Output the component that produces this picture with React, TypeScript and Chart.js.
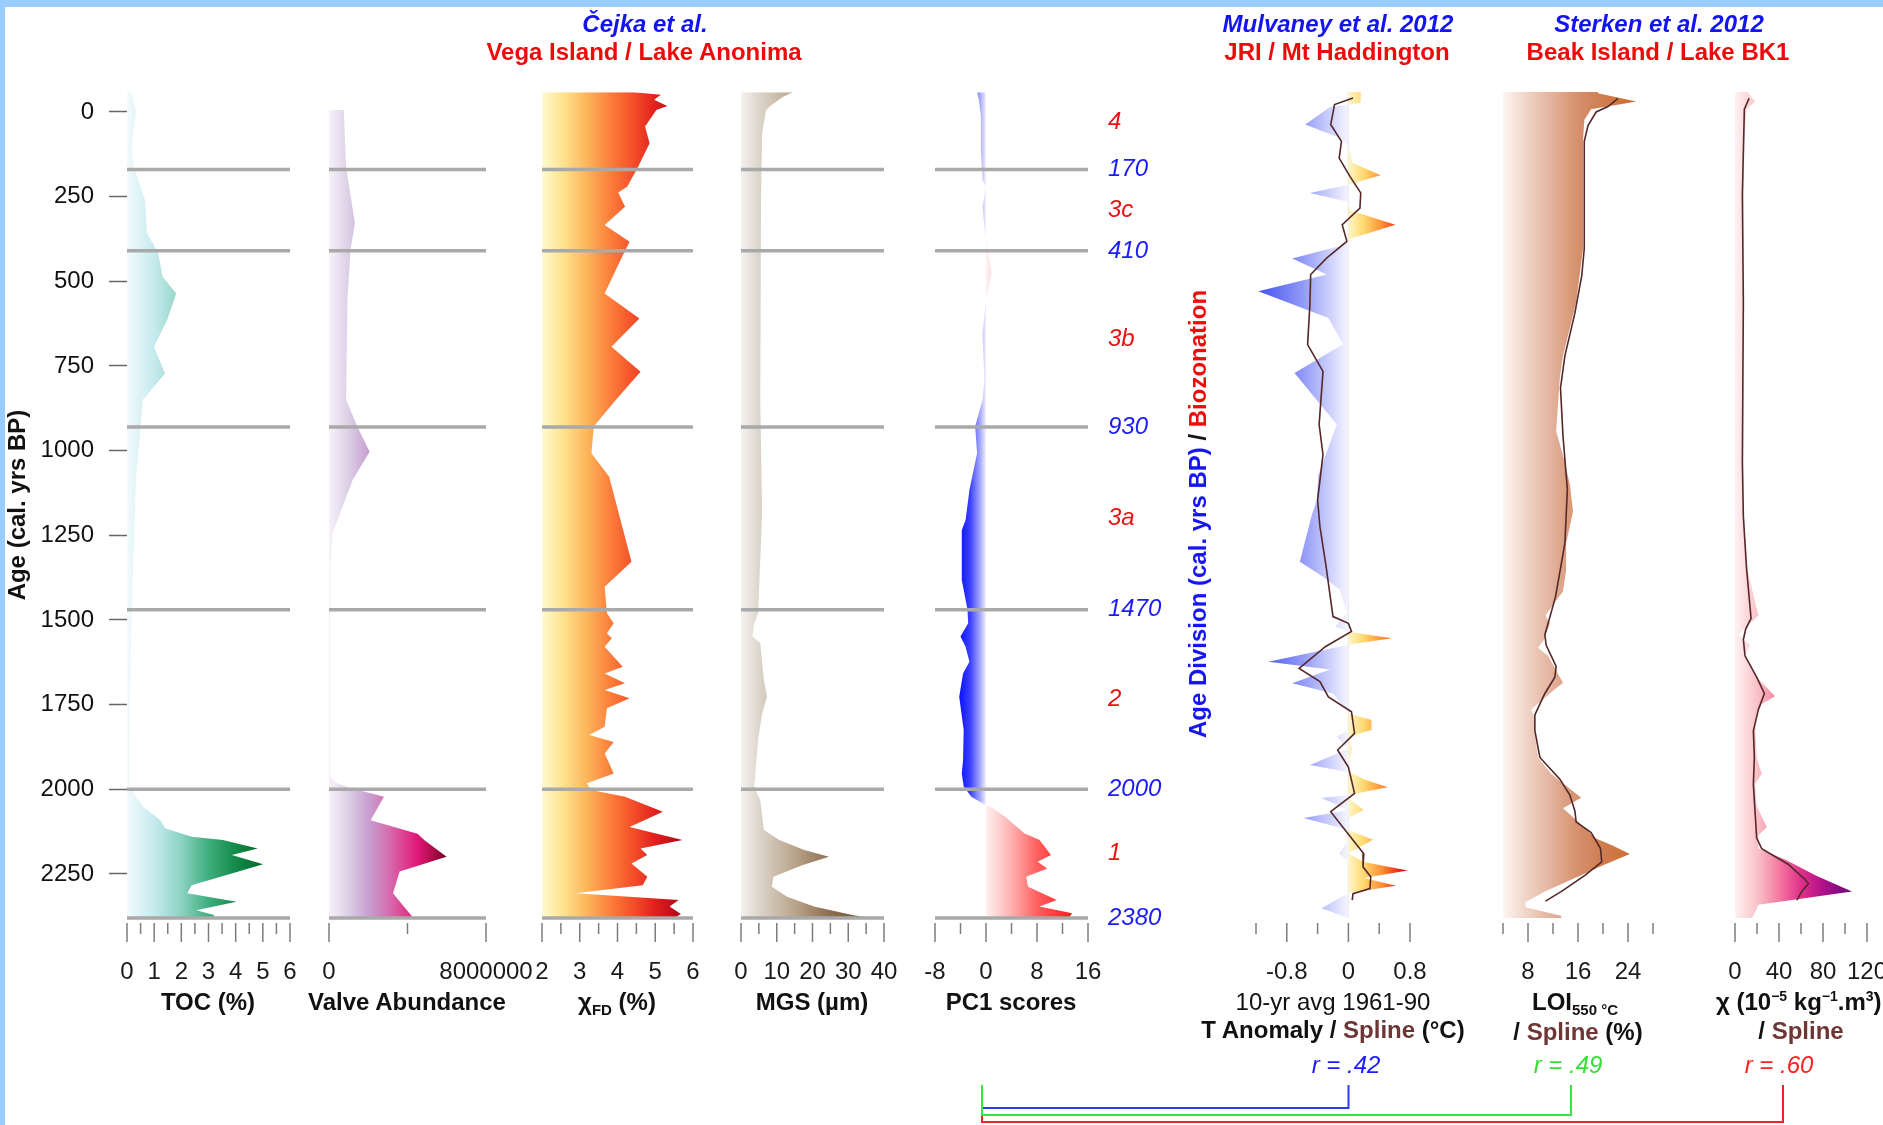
import React, { useEffect, useRef } from 'react';
import { Chart, registerables } from 'chart.js';

Chart.register(...registerables);

const FONT = "'Liberation Sans', Arial, Helvetica, sans-serif";
const W = 1883;
const H = 1125;
const PLOT_TOP = 92;
const PLOT_BOTTOM = 918;
const AXIS_BOX = 120;

type Pair = [number, number];

// ---- shared age axis (cal. yrs BP) ----
const AGE_MIN = -59;
const AGE_MAX = 2380;
const ageTicks = [0, 250, 500, 750, 1000, 1250, 1500, 1750, 2000, 2250];
const divisionAges = [170, 410, 930, 1470, 2000, 2380];
const biozoneNames = ['4', '3c', '3b', '3a', '2', '1'];
const biozoneAges = [30, 290, 670, 1200, 1735, 2190];

// ---- tick labels per panel ----
const tocTickLabels = [0, 1, 2, 3, 4, 5, 6];
const valveTickLabels = [0, 8000000];
const xfdTickLabels = [2, 3, 4, 5, 6];
const mgsTickLabels = [0, 10, 20, 30, 40];
const pc1TickLabels = [-8, 0, 8, 16];
const tempTickLabels = [-0.8, 0, 0.8];
const loiTickLabels = [8, 16, 24];
const chiTickLabels = [0, 40, 80, 120];

// ---- Vega Island / Lake Anonima profiles: [age, value] ----
const tocProfile: Pair[] = [
  [-58, 0.17], [0, 0.33], [109, 0.17], [161, 0.25], [260, 0.66], [358, 0.74], [417, 1.15],
  [486, 1.31], [536, 1.81], [614, 1.48], [693, 0.99], [772, 1.4], [850, 0.58], [1086, 0.33],
  [1480, 0.17], [1874, 0.08], [1992, 0.08], [2051, 0.58], [2091, 1.23], [2115, 1.4],
  [2140, 2.38], [2150, 3.53], [2175, 4.81], [2194, 3.86], [2221, 5.01], [2283, 2.38],
  [2307, 2.22], [2332, 4.03], [2357, 2.55], [2371, 3.2], [2380, 3.2],
];

const valveProfile: Pair[] = [
  [-6, 750000], [161, 870000], [329, 1320000], [407, 1090000], [555, 940000], [850, 870000],
  [929, 1440000], [1003, 2070000], [1086, 1210000], [1244, 180000], [1333, 70000],
  [1628, 50000], [1960, 50000], [1980, 300000], [1995, 1000000], [2022, 2800000],
  [2091, 2120000], [2131, 4510000], [2150, 4850000], [2199, 5990000], [2243, 3600000],
  [2307, 3260000], [2371, 4170000], [2380, 4300000],
];

const xfdProfile: Pair[] = [
  [-58, 4.43], [-51, 5.15], [-36, 4.97], [-18, 5.32], [-6, 5.03], [43, 4.73], [92, 4.85],
  [161, 4.55], [220, 4.26], [238, 4.02], [280, 4.2], [334, 3.66], [383, 4.32], [437, 4.08],
  [536, 3.66], [610, 4.58], [693, 3.84], [767, 4.61], [850, 3.96], [929, 3.37], [1008, 3.31],
  [1077, 3.78], [1328, 4.37], [1402, 3.66], [1480, 3.72], [1510, 3.9], [1539, 3.72],
  [1554, 3.85], [1579, 3.66], [1638, 4.14], [1658, 3.66], [1687, 4.2], [1707, 3.66],
  [1731, 4.32], [1761, 3.72], [1815, 3.66], [1840, 3.25], [1860, 3.9], [1894, 3.66],
  [1953, 3.9], [1982, 3.19], [2002, 3.3], [2022, 4.2], [2066, 5.2], [2111, 4.32],
  [2150, 5.72], [2175, 4.61], [2194, 4.79], [2219, 4.37], [2258, 4.79], [2283, 4.67],
  [2307, 2.89], [2327, 5.62], [2346, 5.38], [2368, 5.68], [2380, 5.5],
];

const mgsProfile: Pair[] = [
  [-58, 14.5], [-45, 11.8], [-21, 8.6], [-6, 7.0], [63, 5.9], [260, 5.6], [850, 5.4],
  [1185, 5.9], [1480, 4.8], [1510, 3.7], [1549, 3.2], [1569, 5.4], [1677, 6.4], [1727, 7.3],
  [1776, 5.9], [1854, 4.8], [1992, 3.7], [2032, 5.4], [2120, 6.4], [2150, 10.7], [2179, 17.7],
  [2199, 24.6], [2224, 17.1], [2258, 9.1], [2288, 8.6], [2317, 12.9], [2346, 20.4],
  [2371, 31.1], [2380, 36],
];

const pc1Profile: Pair[] = [
  [-58, -1.4], [-35, -1.1], [14, -0.8], [112, -0.8], [201, -0.55], [221, 0], [280, -0.55],
  [339, -0.25], [378, 0], [476, 0.9], [555, 0], [654, -0.55], [791, -0.25], [850, -0.55],
  [929, -1.7], [1008, -1.4], [1116, -2.6], [1205, -3.2], [1235, -3.8], [1382, -3.8],
  [1470, -2.9], [1510, -2.8], [1549, -4.0], [1579, -3.2], [1623, -2.6], [1658, -3.6],
  [1727, -4.2], [1825, -3.5], [1914, -3.6], [1953, -3.8], [1992, -3.5], [2022, -2.3],
  [2041, -0.55], [2046, 0], [2051, 0.65], [2081, 3.0], [2130, 6.0], [2150, 8.4], [2194, 10.2],
  [2214, 8.1], [2234, 9.6], [2258, 6.3], [2288, 6.6], [2327, 11.1], [2346, 8.4], [2366, 13.5],
  [2380, 13.0],
];

// ---- JRI / Mt Haddington temperature anomaly ----
const tempProfile: Pair[] = [
  [-59, 0.16], [-27, 0.16], [-22, 0], [-15, -0.24], [37, -0.56], [77, -0.11], [100, 0],
  [150, 0.05], [187, 0.42], [215, 0], [239, -0.5], [266, 0], [290, 0.02], [333, 0.61],
  [375, 0.02], [395, -0.1], [433, -0.73], [480, -0.28], [529, -1.17], [608, -0.26],
  [686, -0.07], [771, -0.7], [923, -0.15], [1071, -0.39], [1146, -0.41], [1194, -0.48],
  [1328, -0.63], [1372, -0.33], [1411, -0.11], [1480, -0.02], [1520, -0.17], [1535, 0],
  [1554, 0.56], [1573, 0], [1623, -1.04], [1646, -0.24], [1687, -0.73], [1717, -0.2],
  [1776, 0], [1795, 0.3], [1825, 0.3], [1845, -0.15], [1880, 0.05], [1928, -0.5], [1950, 0.02],
  [1970, 0.2], [1994, 0.51], [2017, 0], [2026, -0.35], [2061, 0.2], [2085, -0.58], [2120, 0],
  [2149, 0.32], [2189, -0.12], [2215, 0.2], [2240, 0.77], [2262, 0.2], [2285, 0.62],
  [2306, 0], [2351, -0.35], [2380, 0],
];

const tempSpline: Pair[] = [
  [-41, 0.06], [-22, -0.18], [37, -0.23], [87, -0.09], [136, -0.12], [190, 0.02], [239, 0.16],
  [284, 0.15], [333, -0.08], [382, -0.02], [431, -0.28], [480, -0.49], [569, -0.5], [687, -0.53],
  [766, -0.33], [923, -0.38], [1012, -0.33], [1146, -0.4], [1224, -0.37], [1342, -0.29],
  [1490, -0.2], [1510, 0], [1534, 0.04], [1579, -0.3], [1643, -0.64], [1682, -0.37],
  [1727, -0.26], [1771, 0.04], [1835, 0.08], [1884, -0.14], [1934, 0], [2012, 0.08],
  [2066, -0.23], [2130, -0.01], [2190, 0.2], [2229, 0.19], [2258, 0.29], [2293, 0.28],
  [2308, 0.06], [2327, 0.05],
];

// ---- Beak Island / Lake BK1 ----
const loiProfile: Pair[] = [
  [-59, 19.2], [-55, 19.2], [-31, 25.3], [-8, 18.1], [24, 17.0], [87, 16.8], [404, 16.8],
  [562, 15.7], [720, 13.6], [783, 13.1], [941, 12.5], [1036, 13.9], [1100, 14.7], [1179, 15.2],
  [1274, 14.1], [1353, 14.1], [1416, 13.6], [1448, 12.3], [1487, 10.8], [1511, 11.5],
  [1558, 10.6], [1582, 9.6], [1606, 11.2], [1685, 13.6], [1709, 12.0], [1764, 8.5], [1788, 9.1],
  [1827, 9.0], [1906, 9.6], [1954, 11.7], [2001, 14.9], [2025, 16.5], [2056, 13.6],
  [2096, 16.0], [2144, 18.7], [2167, 21.6], [2191, 24.3], [2222, 20.3], [2254, 16.5],
  [2302, 10.7], [2334, 7.5], [2349, 7.7], [2373, 13.3], [2380, 13.3],
];

const loiSpline: Pair[] = [
  [-40, 22.4], [-16, 20.8], [0, 18.9], [40, 17.6], [87, 17.0], [404, 17.0], [483, 16.6],
  [594, 15.5], [720, 13.9], [815, 13.2], [957, 13.6], [1115, 14.3], [1274, 13.9], [1432, 12.4],
  [1511, 11.2], [1543, 10.7], [1574, 10.9], [1637, 12.5], [1669, 12.3], [1717, 10.7],
  [1780, 9.1], [1827, 9.1], [1906, 9.9], [1970, 13.1], [2017, 14.7], [2064, 15.5],
  [2096, 15.7], [2128, 18.1], [2175, 19.6], [2214, 19.8], [2254, 17.1], [2302, 13.3],
  [2330, 10.8],
];

const chiProfile: Pair[] = [
  [-59, 12], [-55, 12.1], [-31, 18.2], [-8, 10.6], [87, 8.5], [404, 7.6], [1200, 7.6],
  [1352, 11.5], [1447, 18.2], [1487, 21.3], [1527, 8.5], [1543, 3], [1574, 13.7], [1606, 8.5],
  [1669, 19.7], [1725, 36.4], [1748, 24.3], [1796, 18.2], [1906, 19.7], [1954, 24.3],
  [1985, 18.2], [2049, 19.7], [2112, 28.9], [2136, 21.3], [2175, 21.3], [2207, 45.6],
  [2254, 72.9], [2302, 106.3], [2341, 21.3], [2373, 16.7], [2380, 15.2],
];

const chiSpline: Pair[] = [
  [-40, 12.8], [-8, 8.5], [245, 6.7], [562, 7.6], [1036, 6.7], [1194, 7.6], [1352, 10.6],
  [1495, 14.6], [1527, 9.7], [1558, 7.6], [1606, 9.1], [1669, 19.7], [1717, 26.7],
  [1764, 21.3], [1827, 16.7], [1906, 17.6], [1985, 16.7], [2064, 18.2], [2144, 19.7],
  [2175, 24.3], [2222, 48.6], [2262, 62.3], [2278, 66.8], [2302, 60.7], [2327, 56.2],
];

// ---- colour ramps (value, colour) ----
const TOC_RAMP: Pair[] | any = [[0, '#f2fafc'], [1, '#c6eaee'], [2, '#8bd3c2'], [3, '#3fae7e'], [4, '#138a48'], [5, '#006a2c']];
const VALVE_RAMP: any = [[0, '#f6f2f8'], [1000000, '#dccfe6'], [2000000, '#c8a0d2'], [3000000, '#d670b0'], [4500000, '#e01878'], [5500000, '#a0083e'], [6000000, '#6a0028']];
const XFD_RAMP: any = [[2, '#fffbd0'], [2.6, '#fee08a'], [3.2, '#fdb45a'], [3.8, '#fb7f3a'], [4.4, '#f4502a'], [5.0, '#e0201e'], [5.6, '#b80818'], [6, '#900010']];
const MGS_RAMP: any = [[0, '#f5f2ee'], [5, '#ddd5cb'], [15, '#b9a48b'], [25, '#8c6d4f'], [35, '#6e5236']];
const PC1_NEG_RAMP: any = [[-4.2, '#0a10ff'], [-2.5, '#3a40ff'], [-1, '#a0a4ff'], [0, '#f2f2ff']];
const PC1_POS_RAMP: any = [[0, '#fff0f0'], [4, '#ffb0b0'], [8, '#ff6060'], [13.5, '#ff1a1a']];
const TEMP_NEG_RAMP: any = [[-1.2, '#3f4ff0'], [-0.6, '#9098f6'], [0, '#f6f6ff']];
const TEMP_POS_RAMP: any = [[0, '#fff6c8'], [0.2, '#ffd870'], [0.45, '#ff8a30'], [0.7, '#e81010'], [0.8, '#c00000']];
const LOI_RAMP: any = [[4, '#fdf5f1'], [8, '#efd2c4'], [12, '#e2b09a'], [16, '#d6906c'], [20, '#cf7d50'], [25, '#d06a2c']];
const CHI_RAMP: any = [[0, '#fff2f2'], [20, '#f9c3c8'], [40, '#f47aa0'], [60, '#e0308a'], [80, '#b0108a'], [105, '#6a0a78']];

const SPLINE_COLOR = '#55282a';

function rampFill(stops: [number, string][]) {
  return (c: any) => {
    const chart = c.chart;
    const xs = chart.scales && chart.scales.x;
    if (!chart.chartArea || !xs) return stops[0][1];
    const v0 = stops[0][0];
    const v1 = stops[stops.length - 1][0];
    const g = chart.ctx.createLinearGradient(xs.getPixelForValue(v0), 0, xs.getPixelForValue(v1), 0);
    stops.forEach(([v, col]) => g.addColorStop((v - v0) / (v1 - v0), col));
    return g;
  };
}

const toPoints = (rows: Pair[], f: (v: number) => number = (v) => v) =>
  rows.map(([age, v]) => ({ x: f(v), y: age }));

function areaSet(rows: Pair[], base: number, ramp: [number, string][], f?: (v: number) => number) {
  return {
    data: toPoints(rows, f),
    fill: { value: base },
    backgroundColor: rampFill(ramp),
    borderColor: 'rgba(0,0,0,0)',
    borderWidth: 0,
    pointRadius: 0,
    order: 1,
  };
}

function splineSet(rows: Pair[]) {
  return {
    data: toPoints(rows),
    fill: false,
    borderColor: SPLINE_COLOR,
    borderWidth: 1.6,
    pointRadius: 0,
    order: 0,
  };
}

type PanelSpec = {
  id: string;
  left: number;
  right: number;
  canvasLeft: number;
  canvasRight: number;
  min: number;
  max: number;
  step: number;
  labels: number[];
  datasets: any[];
  guides?: boolean;
  ageAxis?: boolean;
  zones?: boolean;
};

const panels: PanelSpec[] = [
  {
    id: 'toc', left: 127, right: 290, canvasLeft: 0, canvasRight: 335,
    min: 0, max: 6, step: 0.5, labels: tocTickLabels, guides: true, ageAxis: true,
    datasets: [areaSet(tocProfile, 0, TOC_RAMP)],
  },
  {
    id: 'valve', left: 329, right: 486, canvasLeft: 279, canvasRight: 536,
    min: 0, max: 8000000, step: 4000000, labels: valveTickLabels, guides: true,
    datasets: [areaSet(valveProfile, 0, VALVE_RAMP)],
  },
  {
    id: 'xfd', left: 542, right: 693, canvasLeft: 492, canvasRight: 743,
    min: 2, max: 6, step: 0.5, labels: xfdTickLabels, guides: true,
    datasets: [areaSet(xfdProfile, 2, XFD_RAMP)],
  },
  {
    id: 'mgs', left: 741, right: 884, canvasLeft: 691, canvasRight: 934,
    min: 0, max: 40, step: 5, labels: mgsTickLabels, guides: true,
    datasets: [areaSet(mgsProfile, 0, MGS_RAMP)],
  },
  {
    id: 'pc1', left: 935, right: 1088, canvasLeft: 885, canvasRight: 1220,
    min: -8, max: 16, step: 4, labels: pc1TickLabels, guides: true, zones: true,
    datasets: [
      areaSet(pc1Profile, 0, PC1_NEG_RAMP, (v) => Math.min(v, 0)),
      areaSet(pc1Profile, 0, PC1_POS_RAMP, (v) => Math.max(v, 0)),
    ],
  },
  {
    id: 'temp', left: 1256, right: 1410, canvasLeft: 1206, canvasRight: 1460,
    min: -1.2, max: 0.8, step: 0.4, labels: tempTickLabels,
    datasets: [
      splineSet(tempSpline),
      areaSet(tempProfile, 0, TEMP_NEG_RAMP, (v) => Math.min(v, 0)),
      areaSet(tempProfile, 0, TEMP_POS_RAMP, (v) => Math.max(v, 0)),
      {
        data: [{ x: 0, y: AGE_MIN }, { x: 0, y: AGE_MAX }],
        fill: false, borderColor: '#e3e3f1', borderWidth: 1.2, pointRadius: 0, order: 3,
      },
    ],
  },
  {
    id: 'loi', left: 1503, right: 1653, canvasLeft: 1453, canvasRight: 1703,
    min: 4, max: 28, step: 4, labels: loiTickLabels,
    datasets: [splineSet(loiSpline), areaSet(loiProfile, 4, LOI_RAMP)],
  },
  {
    id: 'chi', left: 1735, right: 1867, canvasLeft: 1685, canvasRight: 1917,
    min: 0, max: 120, step: 20, labels: chiTickLabels,
    datasets: [splineSet(chiSpline), areaSet(chiProfile, 0, CHI_RAMP)],
  },
];

const isLabelled = (labels: number[], v: number) => labels.some((l) => Math.abs(l - v) < 1e-9);

function tickMarkPlugin(labels: number[]) {
  return {
    id: 'tickMarks',
    afterDraw(chart: any) {
      const s = chart.scales.x;
      const ctx = chart.ctx;
      const b = chart.chartArea.bottom;
      ctx.save();
      ctx.strokeStyle = '#7c7c7c';
      ctx.lineWidth = 1.5;
      for (const t of s.ticks) {
        const px = s.getPixelForValue(t.value);
        const major = isLabelled(labels, t.value);
        ctx.beginPath();
        ctx.moveTo(px, b + 5);
        ctx.lineTo(px, b + (major ? 24 : 16));
        ctx.stroke();
      }
      ctx.restore();
    },
  };
}

const guidePlugin = {
  id: 'guides',
  afterDatasetsDraw(chart: any) {
    const { ctx, chartArea } = chart;
    const ys = chart.scales.y;
    ctx.save();
    ctx.strokeStyle = '#a9a9a9';
    ctx.lineWidth = 3.5;
    for (const age of divisionAges) {
      const py = ys.getPixelForValue(age);
      ctx.beginPath();
      ctx.moveTo(chartArea.left, py);
      ctx.lineTo(chartArea.right, py);
      ctx.stroke();
    }
    ctx.restore();
  },
};

const zonePlugin = {
  id: 'zones',
  afterDraw(chart: any) {
    const { ctx, chartArea } = chart;
    const ys = chart.scales.y;
    const x = chartArea.right + 20;
    ctx.save();
    ctx.font = `italic 24px ${FONT}`;
    ctx.textAlign = 'left';
    ctx.textBaseline = 'middle';
    ctx.fillStyle = '#1a1aff';
    divisionAges.forEach((age) => ctx.fillText(String(age), x, ys.getPixelForValue(age)));
    ctx.fillStyle = '#ee1111';
    biozoneNames.forEach((n, i) => ctx.fillText(n, x, ys.getPixelForValue(biozoneAges[i])));
    ctx.restore();
  },
};

function buildChart(canvas: HTMLCanvasElement, p: PanelSpec) {
  const width = p.canvasRight - p.canvasLeft;
  const padLeft = p.ageAxis ? 0 : p.left - p.canvasLeft;
  const padRight = p.canvasRight - p.right;
  const xTicks: number[] = [];
  for (let v = p.min; v <= p.max + p.step * 1e-6; v += p.step) xTicks.push(Math.round(v * 1e6) / 1e6);

  const plugins: any[] = [tickMarkPlugin(p.labels)];
  if (p.guides) plugins.push(guidePlugin);
  if (p.zones) plugins.push(zonePlugin);

  const yScale: any = {
    type: 'linear',
    bounds: 'data',
    min: AGE_MIN,
    max: AGE_MAX,
    reverse: true,
    display: !!p.ageAxis,
  };
  if (p.ageAxis) {
    Object.assign(yScale, {
      position: 'left',
      border: { display: false },
      grid: { display: true, drawOnChartArea: false, drawTicks: true, tickLength: 18, tickColor: '#666', tickWidth: 1.5, color: 'rgba(0,0,0,0)' },
      ticks: { padding: 15, color: '#111', font: { family: FONT, size: 24 }, callback: (v: number) => String(v) },
      title: { display: true, text: 'Age (cal. yrs BP)', color: '#111', font: { family: FONT, size: 24, weight: 'bold' }, padding: { top: 4, bottom: 0 } },
      afterBuildTicks: (s: any) => { s.ticks = ageTicks.map((v) => ({ value: v })); },
      afterFit: (s: any) => { s.width = p.left; s.paddingTop = 0; s.paddingBottom = 0; },
    });
  }

  return new Chart(canvas, {
    type: 'line',
    data: { datasets: p.datasets },
    options: {
      animation: false,
      responsive: false,
      devicePixelRatio: 1,
      indexAxis: 'y',
      events: [],
      layout: { padding: { left: padLeft, right: padRight, top: PLOT_TOP, bottom: H - PLOT_BOTTOM - AXIS_BOX } },
      plugins: { legend: { display: false }, tooltip: { enabled: false } },
      scales: {
        x: {
          type: 'linear',
          position: 'bottom',
          bounds: 'data',
          min: p.min,
          max: p.max,
          grid: { display: false, drawTicks: false },
          border: { display: false },
          ticks: {
            autoSkip: false,
            maxRotation: 0,
            minRotation: 0,
            padding: 40,
            color: '#1a1a1a',
            font: { family: FONT, size: 24 },
            callback: (v: number) => (isLabelled(p.labels, v) ? String(Math.round(v * 1e6) / 1e6) : ''),
          },
          afterBuildTicks: (s: any) => { s.ticks = xTicks.map((v) => ({ value: v })); },
          afterFit: (s: any) => { s.height = AXIS_BOX; s.paddingLeft = 0; s.paddingRight = 0; },
        },
        y: yScale,
      },
    } as any,
    plugins,
  } as any);
  void width;
}

function Panel({ spec }: { spec: PanelSpec }) {
  const ref = useRef<HTMLCanvasElement>(null);
  useEffect(() => {
    if (!ref.current) return;
    const chart: any = buildChart(ref.current, spec);
    return () => { if (chart) chart.destroy(); };
  }, [spec]);
  const w = spec.canvasRight - spec.canvasLeft;
  return (
    <canvas
      ref={ref}
      width={w}
      height={H}
      style={{ position: 'absolute', left: spec.canvasLeft, top: 0, width: w, height: H }}
    />
  );
}

function Text({ x, y, children, align = 'center', style }: any) {
  const tx = align === 'center' ? '-50%' : align === 'left' ? '0%' : '-100%';
  return (
    <div
      style={{
        position: 'absolute', left: x, top: y, transform: `translate(${tx}, -50%)`,
        whiteSpace: 'nowrap', lineHeight: 1, fontFamily: FONT, fontSize: 24, color: '#111', ...style,
      }}
    >
      {children}
    </div>
  );
}

const BLUE = '#1414f0';
const RED = '#ee0a0a';
const BROWN = '#6e3535';
const bold = { fontWeight: 'bold' };
const sub = { fontSize: 15, position: 'relative' as const, top: 5 };
const sup = { fontSize: 14, position: 'relative' as const, top: -9 };

export default function App() {
  useEffect(() => {
    document.body.style.margin = '0';
    document.body.style.overflow = 'hidden';
  }, []);

  return (
    <div style={{ position: 'absolute', left: 0, top: 0, width: W, height: H, overflow: 'hidden', background: '#ffffff', fontFamily: FONT }}>
      <div style={{ position: 'absolute', left: 0, top: 0, width: W, height: 7, background: '#99ccff' }} />
      <div style={{ position: 'absolute', left: 0, top: 0, width: 5, height: H, background: '#99ccff' }} />

      {panels.map((p) => <Panel key={p.id} spec={p} />)}

      {/* source headings */}
      <Text x={645} y={24} style={{ ...bold, fontStyle: 'italic', color: BLUE }}>Čejka et al.</Text>
      <Text x={644} y={52} style={{ ...bold, color: RED }}>Vega Island / Lake Anonima</Text>
      <Text x={1338} y={24} style={{ ...bold, fontStyle: 'italic', color: BLUE }}>Mulvaney et al. 2012</Text>
      <Text x={1337} y={52} style={{ ...bold, color: RED }}>JRI / Mt Haddington</Text>
      <Text x={1659} y={24} style={{ ...bold, fontStyle: 'italic', color: BLUE }}>Sterken et al. 2012</Text>
      <Text x={1658} y={52} style={{ ...bold, color: RED }}>Beak Island / Lake BK1</Text>

      {/* axis titles */}
      <Text x={208} y={1002} style={bold}>TOC (%)</Text>
      <Text x={407} y={1002} style={bold}>Valve Abundance</Text>
      <Text x={617} y={1002} style={bold}>χ<span style={sub}>FD</span> (%)</Text>
      <Text x={812} y={1002} style={bold}>MGS (µm)</Text>
      <Text x={1011} y={1002} style={bold}>PC1 scores</Text>
      <Text x={1333} y={1002}>10-yr avg 1961-90</Text>
      <Text x={1333} y={1030} style={bold}>T Anomaly / <span style={{ color: BROWN }}>Spline</span> (°C)</Text>
      <Text x={1575} y={1002} style={bold}>LOI<span style={sub}>550 °C</span></Text>
      <Text x={1578} y={1032} style={bold}>/ <span style={{ color: BROWN }}>Spline</span> (%)</Text>
      <Text x={1716} y={1002} align="left" style={bold}>
        χ (10<span style={sup}>−5</span> kg<span style={sup}>−1</span>.m<span style={sup}>3</span>)
      </Text>
      <Text x={1801} y={1031} style={bold}>/ <span style={{ color: BROWN }}>Spline</span></Text>

      {/* vertical zone caption */}
      <div
        style={{
          position: 'absolute', left: 1198, top: 514, transform: 'translate(-50%, -50%) rotate(-90deg)',
          whiteSpace: 'nowrap', lineHeight: 1, fontFamily: FONT, fontSize: 24, fontWeight: 'bold',
        }}
      >
        <span style={{ color: BLUE }}>Age Division (cal. yrs BP)</span>
        <span style={{ color: '#111' }}> / </span>
        <span style={{ color: RED }}>Biozonation</span>
      </div>

      {/* correlations with PC1 */}
      <Text x={1346} y={1065} style={{ fontStyle: 'italic', color: '#1a1aff' }}>r = .42</Text>
      <Text x={1568} y={1065} style={{ fontStyle: 'italic', color: '#33e033' }}>r = .49</Text>
      <Text x={1779} y={1065} style={{ fontStyle: 'italic', color: '#ff2020' }}>r = .60</Text>
      <svg width={W} height={H} style={{ position: 'absolute', left: 0, top: 0, pointerEvents: 'none' }}>
        <polyline points="982,1085 982,1122 1783,1122 1783,1085" fill="none" stroke="#ee2424" strokeWidth={2} />
        <polyline points="982,1085 982,1108 1348.5,1108 1348.5,1085" fill="none" stroke="#2a3cf0" strokeWidth={2} />
        <polyline points="982,1085 982,1115 1571,1115 1571,1085" fill="none" stroke="#40e040" strokeWidth={2} />
      </svg>
    </div>
  );
}
